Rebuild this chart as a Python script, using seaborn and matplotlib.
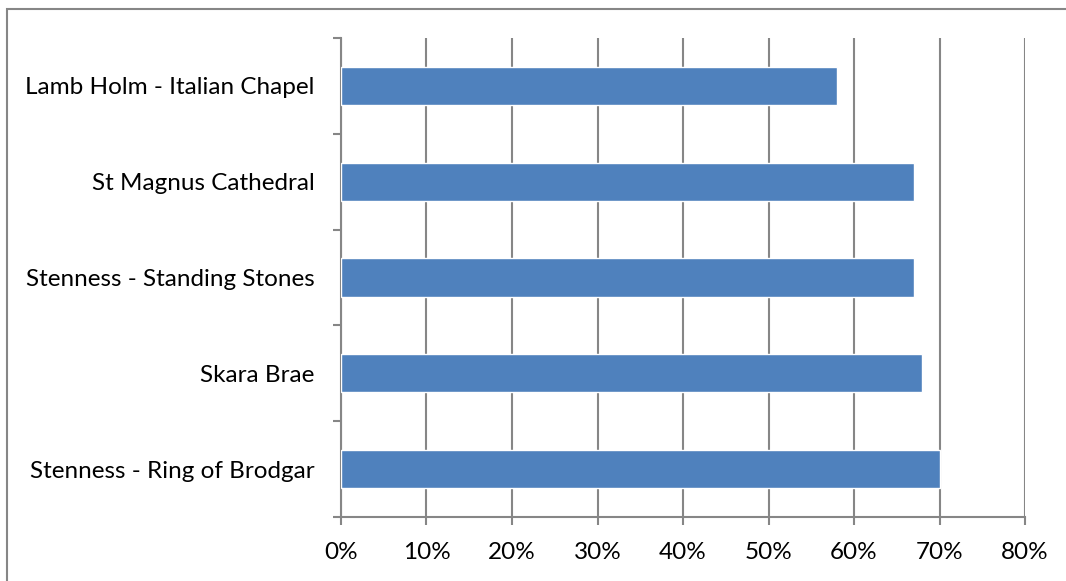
import matplotlib
matplotlib.use("Agg")
import matplotlib.pyplot as plt
import seaborn as sns
import pandas as pd
from matplotlib.patches import Rectangle
from matplotlib.ticker import FuncFormatter, FixedLocator

categories = ["Lamb Holm - Italian Chapel", "St Magnus Cathedral",
              "Stenness - Standing Stones", "Skara Brae",
              "Stenness - Ring of Brodgar"]
values = [0.58, 0.67, 0.67, 0.68, 0.70]
x_ticks = [0, 0.1, 0.2, 0.3, 0.4, 0.5, 0.6, 0.7, 0.8]

sns.set_theme(style="white")
plt.rcParams['font.family'] = ['Lato', 'DejaVu Sans']

df = pd.DataFrame({"site": categories, "share": values})

fig = plt.figure(figsize=(10.66, 5.81), dpi=100)
ax = fig.add_axes([341/1066, 1-517/581, (1025-341)/1066, (517-38)/581])

sns.barplot(data=df, y="site", x="share", orient="h", color="#4F81BD",
            saturation=1, width=0.4, ax=ax, zorder=3)

ax.set_xlim(0, 0.8)
ax.set_ylim(4.5, -0.5)
ax.xaxis.set_major_locator(FixedLocator(x_ticks))
ax.xaxis.set_major_formatter(FuncFormatter(lambda v, p: f"{round(v*100)}%"))
ax.grid(axis="x", color="#868686", linewidth=1.5, zorder=0)
ax.set_axisbelow(True)

# y ticks at category boundaries, labels at centers
ax.set_yticks([i - 0.5 for i in range(len(categories) + 1)])
ax.set_yticklabels([])
ax.set_yticks(range(len(categories)), minor=True)
ax.set_yticklabels(categories, minor=True)
ax.tick_params(axis="y", which="minor", length=0, pad=19, labelsize=17.5, labelcolor="black")
ax.tick_params(axis="y", which="major", length=6, width=1.5, color="#868686", direction="out", left=True)
ax.tick_params(axis="x", which="major", length=6, width=1.5, color="#868686", direction="out",
               bottom=True, labelsize=17.5, labelcolor="black", pad=12)

for s in ["top", "right"]:
    ax.spines[s].set_visible(False)
for s in ["left", "bottom"]:
    ax.spines[s].set_visible(True)
    ax.spines[s].set_color("#868686")
    ax.spines[s].set_linewidth(1.5)

ax.set_xlabel("")
ax.set_ylabel("")

fig.patches.append(Rectangle((7/1066, -0.1), 1.2, 1.1 - 9/581,
                             transform=fig.transFigure, fill=False,
                             edgecolor="#868686", linewidth=1.5))

fig.savefig("out.png", dpi=100)
